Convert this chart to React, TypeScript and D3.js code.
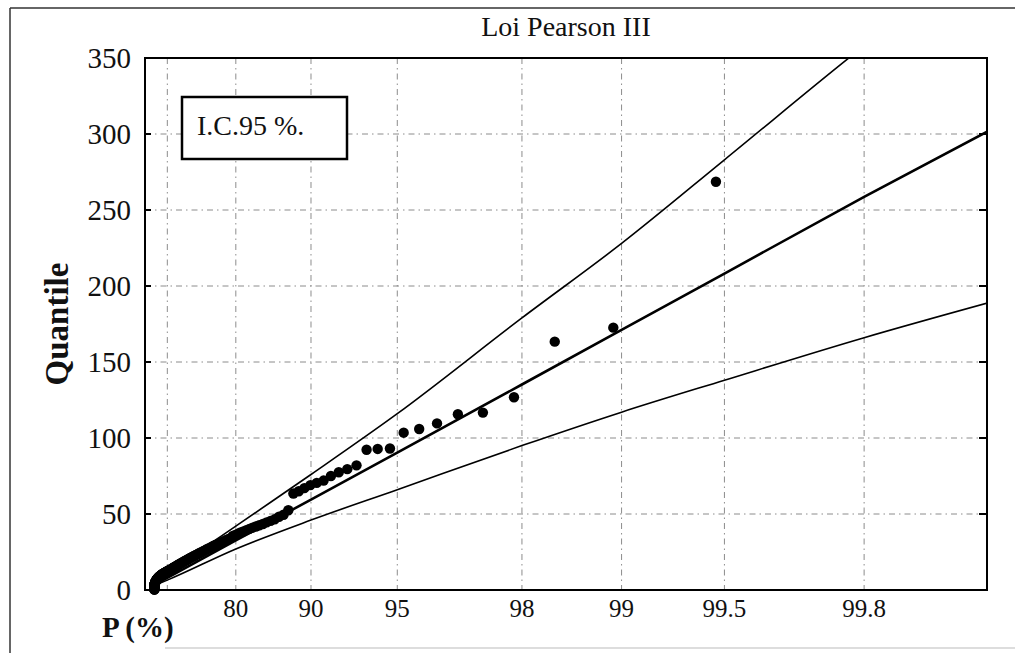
import React from 'react';
import * as d3 from 'd3';

const TITLE = 'Loi Pearson III';
const Y_LABEL = 'Quantile';
const X_LABEL = 'P (%)';
const LEGEND = 'I.C.95 %.';

// Shape parameter of the Pearson III probability paper used for the x axis
const SHAPE = 0.3;
// Extent of the x axis in reduced-variate units
const X_REDUCED_DOMAIN = [-0.053, 4.704];
const Y_DOMAIN = [0, 350];
const Y_TICKS = [0, 50, 100, 150, 200, 250, 300, 350];
const Y_GRID = [50, 100, 150, 200, 250, 300];
const P_TICKS = [80, 90, 95, 98, 99, 99.5, 99.8];
const P_GRID = [50, 80, 90, 95, 98, 99, 99.5, 99.8];

// Fitted Pearson III quantiles and 95% confidence band, read at these probabilities (%)
const LINE_P = [0, 50, 80, 90, 95, 98, 99, 99.5, 99.8, 99.91];
const FIT_Q = [3.4, 8.0, 32.6, 59.5, 90.4, 135.2, 171.2, 208.2, 258.7, 302];
const UPPER_Q = [4, 10.5, 42, 76, 116, 179, 228, 283, 358, 420];
const LOWER_Q = [3, 6.5, 27, 46, 66, 95, 117, 138, 166, 189];

// Observed sample, sorted ascending (188 values)
const OBSERVED = [
  0.2, 0.4, 0.5, 0.7, 0.8, 1.0, 1.1, 1.2, 1.4, 1.5,
  1.6, 1.8, 1.9, 2.0, 2.1, 2.2, 2.3, 2.5, 2.6, 2.7,
  2.8, 2.9, 3.0, 3.1, 3.2, 3.3, 3.4, 3.5, 3.6, 3.7,
  3.8, 3.9, 4.0, 4.1, 4.2, 4.3, 4.4, 4.5, 4.6, 4.8,
  4.9, 5.0, 5.1, 5.2, 5.3, 5.4, 5.5, 5.6, 5.8, 5.9,
  6.0, 6.1, 6.2, 6.4, 6.5, 6.6, 6.8, 6.9, 7.0, 7.2,
  7.3, 7.5, 7.6, 7.8, 7.9, 8.0, 8.2, 8.3, 8.5, 8.6,
  8.8, 8.9, 9.0, 9.2, 9.3, 9.5, 9.6, 9.8, 9.9, 10.1,
  10.2, 10.4, 10.5, 10.7, 10.8, 11.0, 11.1, 11.3, 11.4, 11.6,
  11.8, 11.9, 12.1, 12.3, 12.5, 12.6, 12.8, 13.0, 13.2, 13.4,
  13.6, 13.9, 14.1, 14.4, 14.6, 14.9, 15.1, 15.4, 15.7, 16.0,
  16.3, 16.6, 16.9, 17.2, 17.5, 17.9, 18.2, 18.5, 18.9, 19.3,
  19.6, 20.0, 20.4, 20.8, 21.2, 21.6, 22.0, 22.4, 22.9, 23.3,
  23.8, 24.2, 24.7, 25.2, 25.7, 26.2, 26.8, 27.3, 27.9, 28.5,
  29.1, 29.6, 30.2, 30.8, 31.4, 32.0, 32.7, 33.4, 34.1, 35.6,
  36.2, 37.0, 37.8, 38.6, 39.4, 40.2, 41.0, 41.8, 42.6, 43.4,
  44.5, 45.5, 46.5, 48.2, 49.5, 52.5,
  63.5, 65.0, 67.0, 69.0, 70.5, 72.0, 75.0, 77.5, 79.5, 82.0,
  92.3, 92.8, 93.1, 103.5, 105.9, 109.6, 115.6, 116.7, 126.8, 163.4, 172.6, 268.6,
];

// ---- Pearson III (gamma) probability transform ----
const LANCZOS = [
  0.99999999999980993, 676.5203681218851, -1259.1392167224028, 771.32342877765313,
  -176.61502916214059, 12.507343278686905, -0.13857109526572012, 9.9843695780195716e-6,
  1.5056327351493116e-7,
];
function lnGamma(z: number): number {
  if (z < 0.5) return Math.log(Math.PI / Math.sin(Math.PI * z)) - lnGamma(1 - z);
  z -= 1;
  let x = LANCZOS[0];
  for (let i = 1; i < 9; i++) x += LANCZOS[i] / (z + i);
  const t = z + 7.5;
  return 0.5 * Math.log(2 * Math.PI) + (z + 0.5) * Math.log(t) - t + Math.log(x);
}
function gammaP(a: number, x: number): number {
  if (x <= 0) return 0;
  const lg = lnGamma(a);
  if (x < a + 1) {
    let ap = a, sum = 1 / a, del = sum;
    for (let n = 0; n < 500; n++) {
      ap += 1;
      del *= x / ap;
      sum += del;
      if (Math.abs(del) < Math.abs(sum) * 1e-14) break;
    }
    return sum * Math.exp(-x + a * Math.log(x) - lg);
  }
  const tiny = 1e-300;
  let b = x + 1 - a, c = 1 / tiny, d = 1 / b, h = d;
  for (let i = 1; i < 500; i++) {
    const an = -i * (i - a);
    b += 2;
    d = an * d + b;
    if (Math.abs(d) < tiny) d = tiny;
    c = b + an / c;
    if (Math.abs(c) < tiny) c = tiny;
    d = 1 / d;
    const del = d * c;
    h *= del;
    if (Math.abs(del - 1) < 1e-14) break;
  }
  return 1 - Math.exp(-x + a * Math.log(x) - lg) * h;
}
function gammaQuantile(a: number, p: number): number {
  if (p <= 0) return 0;
  let lo = 0, hi = 1;
  while (gammaP(a, hi) < p) hi *= 2;
  for (let i = 0; i < 90; i++) {
    const mid = (lo + hi) / 2;
    if (gammaP(a, mid) < p) lo = mid; else hi = mid;
  }
  return (lo + hi) / 2;
}

const SERIF = '"Liberation Serif", "Times New Roman", Times, serif';

export default function App() {
  const W = 1015, H = 653;
  const M = { left: 145, right: 987, top: 58, bottom: 590 };

  const reduced = d3.scaleLinear().domain(X_REDUCED_DOMAIN).range([M.left, M.right]);
  const xP = (p: number) => reduced(gammaQuantile(SHAPE, p / 100));
  const y = d3.scaleLinear().domain(Y_DOMAIN).range([M.bottom, M.top]);

  const n = OBSERVED.length;
  const points = OBSERVED.map((q, i) => ({ p: (100 * (i + 1)) / (n + 1), q }));

  const smooth = d3
    .line<number>()
    .x((_, i) => xP(LINE_P[i]))
    .y((d) => y(d))
    .curve(d3.curveMonotoneX);
  const straight = d3
    .line<number>()
    .x((_, i) => xP(LINE_P[i]))
    .y((d) => y(d));

  const gridStyle = { stroke: '#8c8c8c', strokeWidth: 1, strokeDasharray: '6 4 1.5 4', fill: 'none' };

  return (
    <svg
      width={W}
      height={H}
      viewBox={`0 0 ${W} ${H}`}
      style={{ position: 'absolute', left: 0, top: 0, background: '#fff' }}
    >
      <defs>
        <clipPath id="plotClip">
          <rect x={M.left} y={M.top} width={M.right - M.left} height={M.bottom - M.top} />
        </clipPath>
      </defs>
      <rect x={0} y={0} width={W} height={H} fill="#fff" />

      {/* outer figure border */}
      <line x1={10} y1={8} x2={W} y2={8} stroke="#333" strokeWidth={1.5} />
      <line x1={10} y1={8} x2={10} y2={H} stroke="#333" strokeWidth={1.5} />
      <line x1={165} y1={648} x2={W} y2={648} stroke="#bbb" strokeWidth={1} />

      {/* title */}
      <text
        x={(M.left + M.right) / 2}
        y={36}
        textAnchor="middle"
        fontFamily={SERIF}
        fontSize={28}
        fill="#111"
      >
        {TITLE}
      </text>

      {/* grid */}
      {Y_GRID.map((v) => (
        <line key={'gy' + v} x1={M.left} x2={M.right} y1={y(v)} y2={y(v)} style={gridStyle} />
      ))}
      {P_GRID.map((p) => (
        <line key={'gx' + p} x1={xP(p)} x2={xP(p)} y1={M.top} y2={M.bottom} style={gridStyle} />
      ))}

      {/* curves */}
      <g clipPath="url(#plotClip)" fill="none" stroke="#000" strokeLinejoin="round">
        <path d={smooth(UPPER_Q) || ''} strokeWidth={1.6} />
        <path d={smooth(LOWER_Q) || ''} strokeWidth={1.6} />
        <path d={straight(FIT_Q) || ''} strokeWidth={2.6} />
      </g>

      {/* observations */}
      <g fill="#000">
        {points.map((d, i) => (
          <circle key={i} cx={xP(d.p)} cy={y(d.q)} r={5.2} />
        ))}
      </g>

      {/* frame */}
      <rect
        x={M.left}
        y={M.top}
        width={M.right - M.left}
        height={M.bottom - M.top}
        fill="none"
        stroke="#000"
        strokeWidth={2}
      />
      {Y_TICKS.map((v) => (
        <g key={'t' + v}>
          <line x1={M.left} x2={M.left + 6} y1={y(v)} y2={y(v)} stroke="#000" strokeWidth={2} />
          <line x1={M.right - 8} x2={M.right} y1={y(v)} y2={y(v)} stroke="#000" strokeWidth={2} />
        </g>
      ))}

      {/* y tick labels */}
      {Y_TICKS.map((v) => (
        <text
          key={'yl' + v}
          x={131}
          y={y(v) + 10}
          textAnchor="end"
          fontFamily={SERIF}
          fontSize={29}
          fill="#111"
        >
          {v}
        </text>
      ))}

      {/* x tick labels */}
      {P_TICKS.map((p) => (
        <text
          key={'xl' + p}
          x={xP(p)}
          y={617}
          textAnchor="middle"
          fontFamily={SERIF}
          fontSize={25}
          fill="#111"
        >
          {p}
        </text>
      ))}

      {/* axis titles */}
      <text
        transform={`translate(68, 324) rotate(-90)`}
        textAnchor="middle"
        fontFamily={SERIF}
        fontWeight="bold"
        fontSize={33}
        fill="#111"
      >
        {Y_LABEL}
      </text>
      <text x={102} y={637} fontFamily={SERIF} fontWeight="bold" fontSize={29} fill="#111">
        {X_LABEL}
      </text>

      {/* legend box */}
      <rect x={182} y={97} width={165} height={62} fill="#fff" stroke="#000" strokeWidth={2.5} />
      <text x={197} y={135} fontFamily={SERIF} fontSize={28} fill="#111">
        {LEGEND}
      </text>
    </svg>
  );
}
